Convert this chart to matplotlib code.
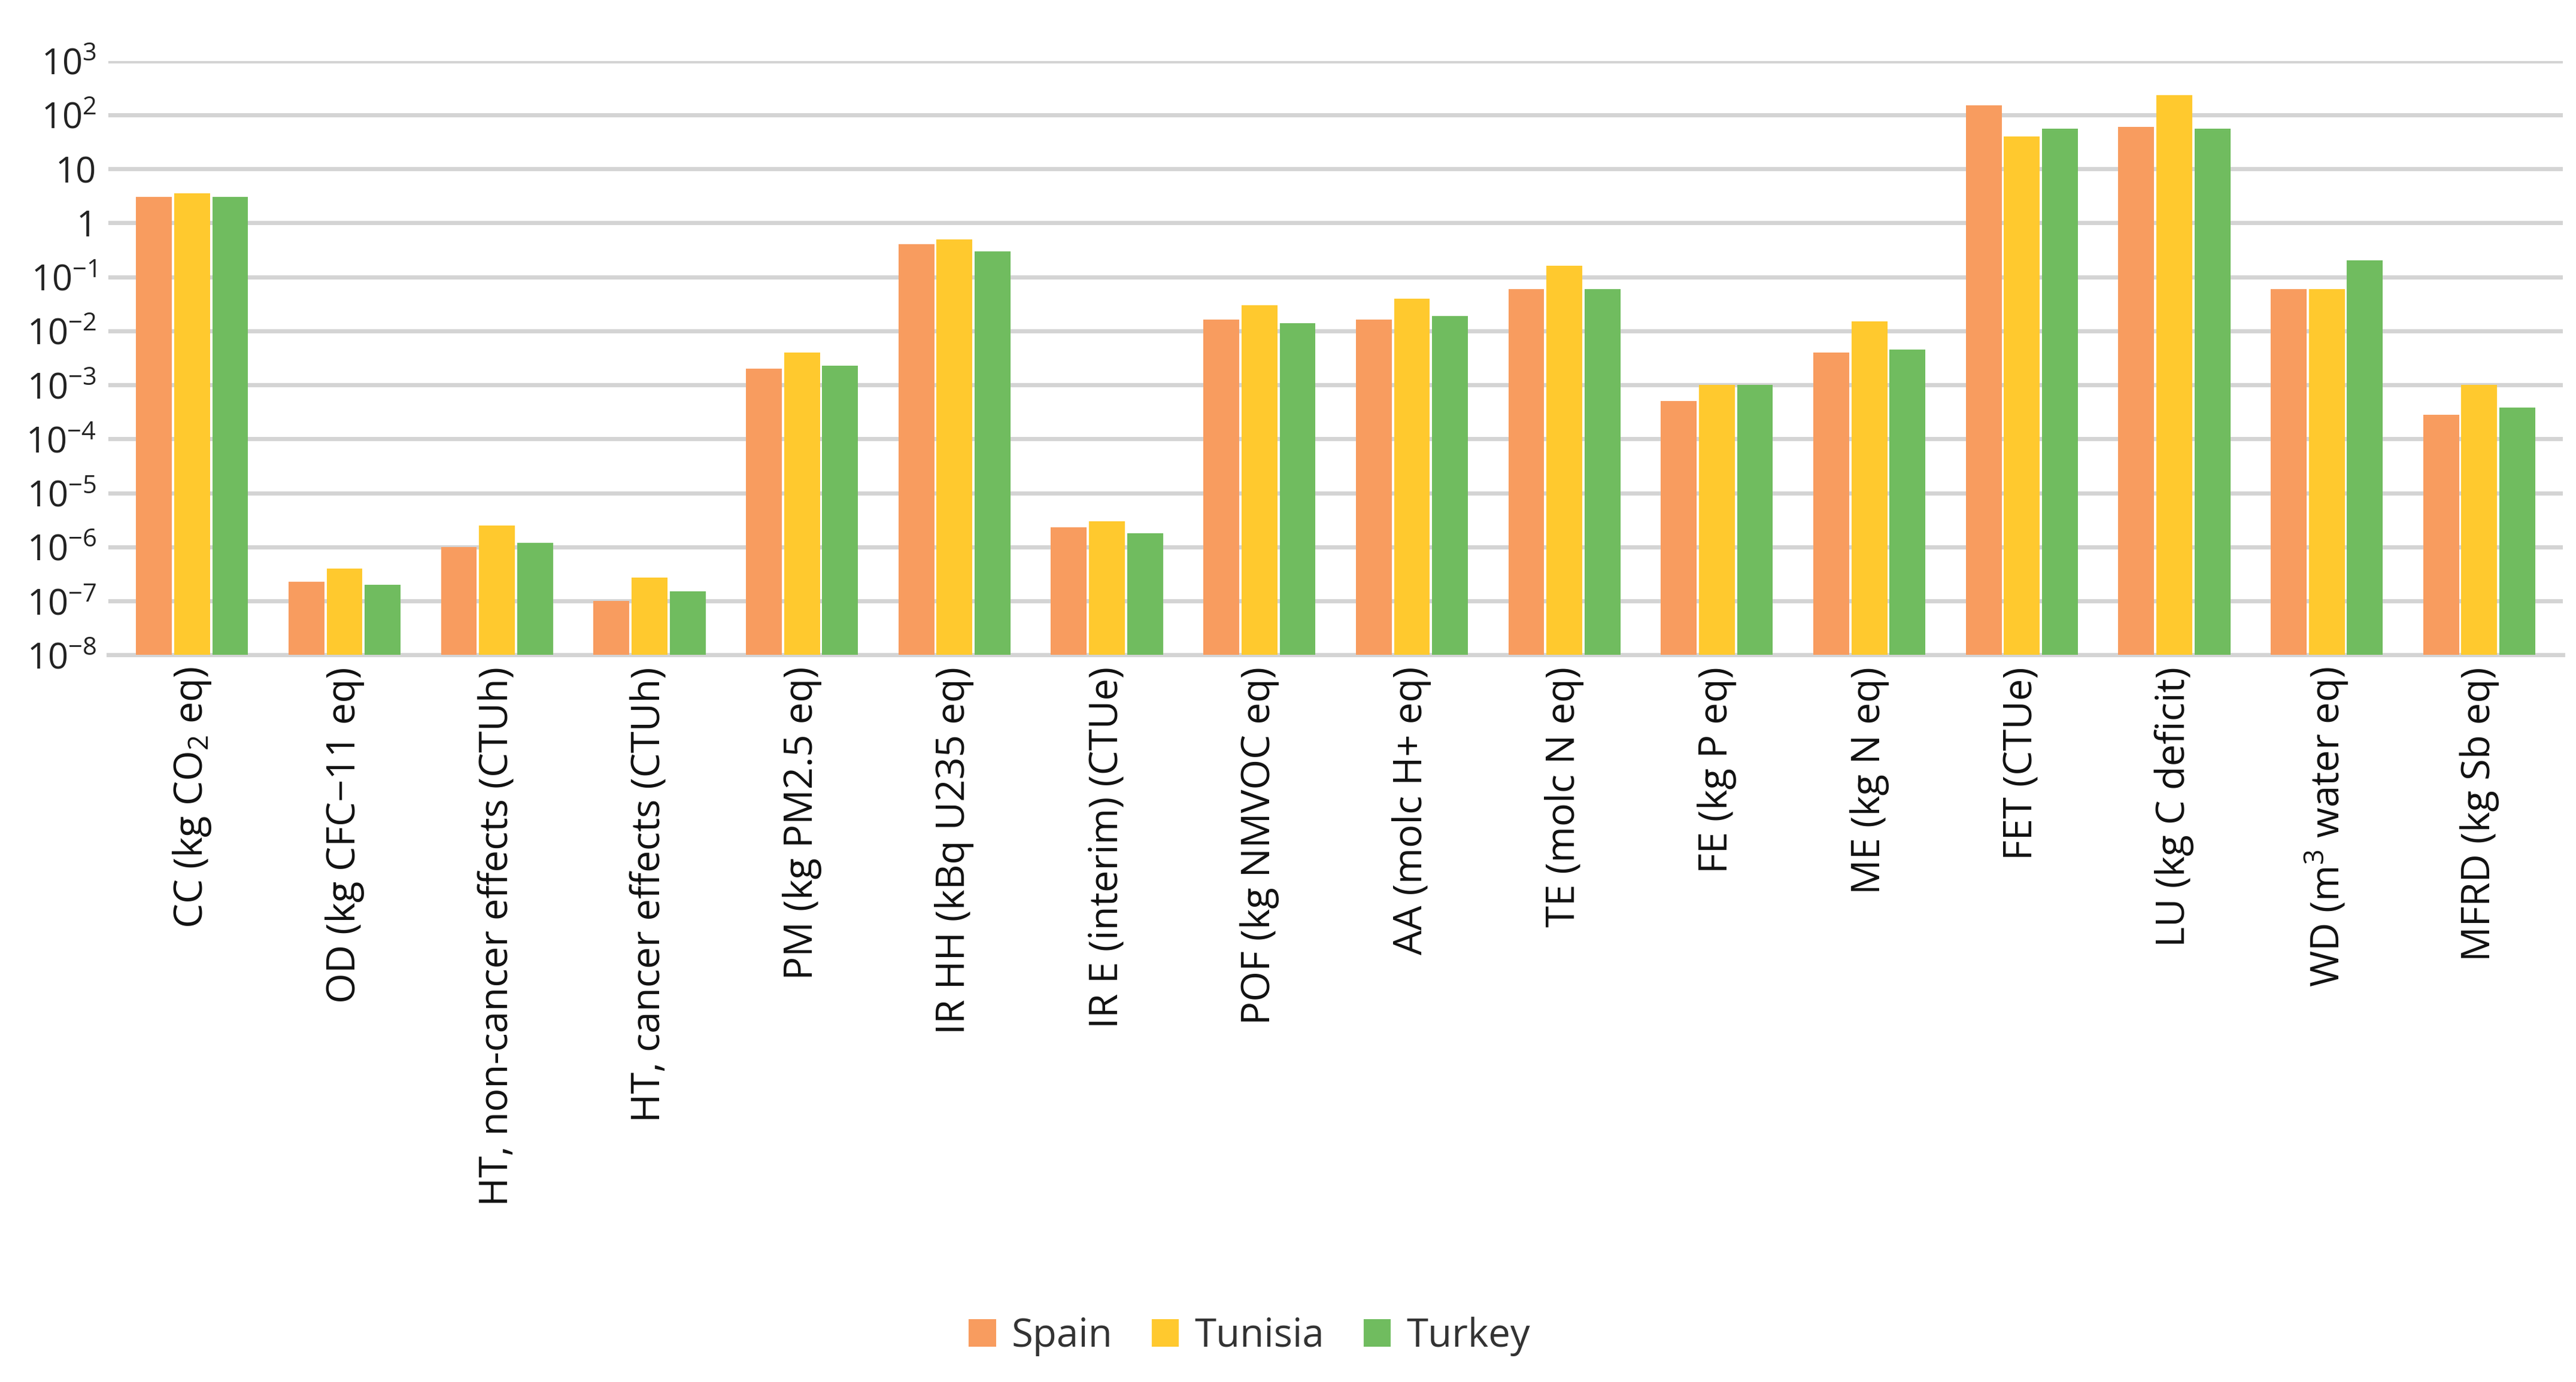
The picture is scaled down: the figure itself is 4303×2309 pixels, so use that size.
import numpy as np
import matplotlib
matplotlib.use('Agg')
import matplotlib.pyplot as plt

categories = ['CC (kg CO$_2$ eq)', 'OD (kg CFC\u221211 eq)', 'HT, non-cancer effects (CTUh)',
              'HT, cancer effects (CTUh)', 'PM (kg PM2.5 eq)', 'IR HH (kBq U235 eq)',
              'IR E (interim) (CTUe)', 'POF (kg NMVOC eq)', 'AA (molc H+ eq)', 'TE (molc N eq)',
              'FE (kg P eq)', 'ME (kg N eq)', 'FET (CTUe)', 'LU (kg C deficit)',
              'WD (m$^3$ water eq)', 'MFRD (kg Sb eq)']
spain   = [3.0, 2.3e-7, 1.0e-6, 1.0e-7, 2.0e-3, 0.40, 2.3e-6, 1.6e-2, 1.6e-2, 6.0e-2, 5.0e-4, 4.0e-3, 150, 60, 6.0e-2, 2.8e-4]
tunisia = [3.5, 4.0e-7, 2.5e-6, 2.7e-7, 4.0e-3, 0.50, 3.0e-6, 3.0e-2, 4.0e-2, 0.16, 1.0e-3, 1.5e-2, 40, 230, 6.0e-2, 1.0e-3]
turkey  = [3.0, 2.0e-7, 1.2e-6, 1.5e-7, 2.3e-3, 0.30, 1.8e-6, 1.4e-2, 1.9e-2, 6.0e-2, 1.0e-3, 4.5e-3, 55, 55, 0.20, 3.8e-4]
series = [('Spain', spain, '#F89C5F'), ('Tunisia', tunisia, '#FFC92E'), ('Turkey', turkey, '#70BC5F')]

tick_vals = [1e-8, 1e-7, 1e-6, 1e-5, 1e-4, 1e-3, 1e-2, 1e-1, 1, 10, 1e2, 1e3]
tick_labels = ['$10^{-8}$', '$10^{-7}$', '$10^{-6}$', '$10^{-5}$', '$10^{-4}$', '$10^{-3}$',
               '$10^{-2}$', '$10^{-1}$', '1', '10', '$10^{2}$', '$10^{3}$']

plt.rcParams['font.family'] = ['Open Sans', 'DejaVu Sans']
plt.rcParams['mathtext.fontset'] = 'custom'
plt.rcParams['mathtext.rm'] = 'Open Sans'
plt.rcParams['mathtext.it'] = 'Open Sans'

fig = plt.figure(figsize=(43.03, 23.09), dpi=100)
ax = fig.add_axes([0.042, 0.526, 0.953, 0.43])
x = np.arange(len(categories))
w = 0.235
for i, (name, vals, col) in enumerate(series):
    ax.bar(x + (i - 1) * 0.25, vals, width=w, color=col, label=name, zorder=3)

ax.set_yscale('log')
ax.set_ylim(1e-8, 1e3)
ax.set_xlim(-0.55, len(categories) - 0.45)
ax.set_yticks(tick_vals)
ax.set_yticklabels(tick_labels, fontsize=43, color='#222222')
ax.minorticks_off()
ax.yaxis.grid(True, color='#D4D4D4', linewidth=5, zorder=0)
ax.set_xticks(x)
ax.set_xticklabels(categories, rotation=90, fontsize=47, color='#111111')
ax.tick_params(length=0, pad=14)
for s in ['top', 'right', 'left']:
    ax.spines[s].set_visible(False)
ax.spines['bottom'].set_color('#D4D4D4')
ax.spines['bottom'].set_linewidth(5)

fig.legend(loc='center', bbox_to_anchor=(0.485, 0.033), ncol=3, frameon=False,
           fontsize=47, handlelength=0.7, handleheight=0.7, columnspacing=1.0, handletextpad=0.4,
           labelcolor='#333333')
fig.savefig('out.png', dpi=100)
